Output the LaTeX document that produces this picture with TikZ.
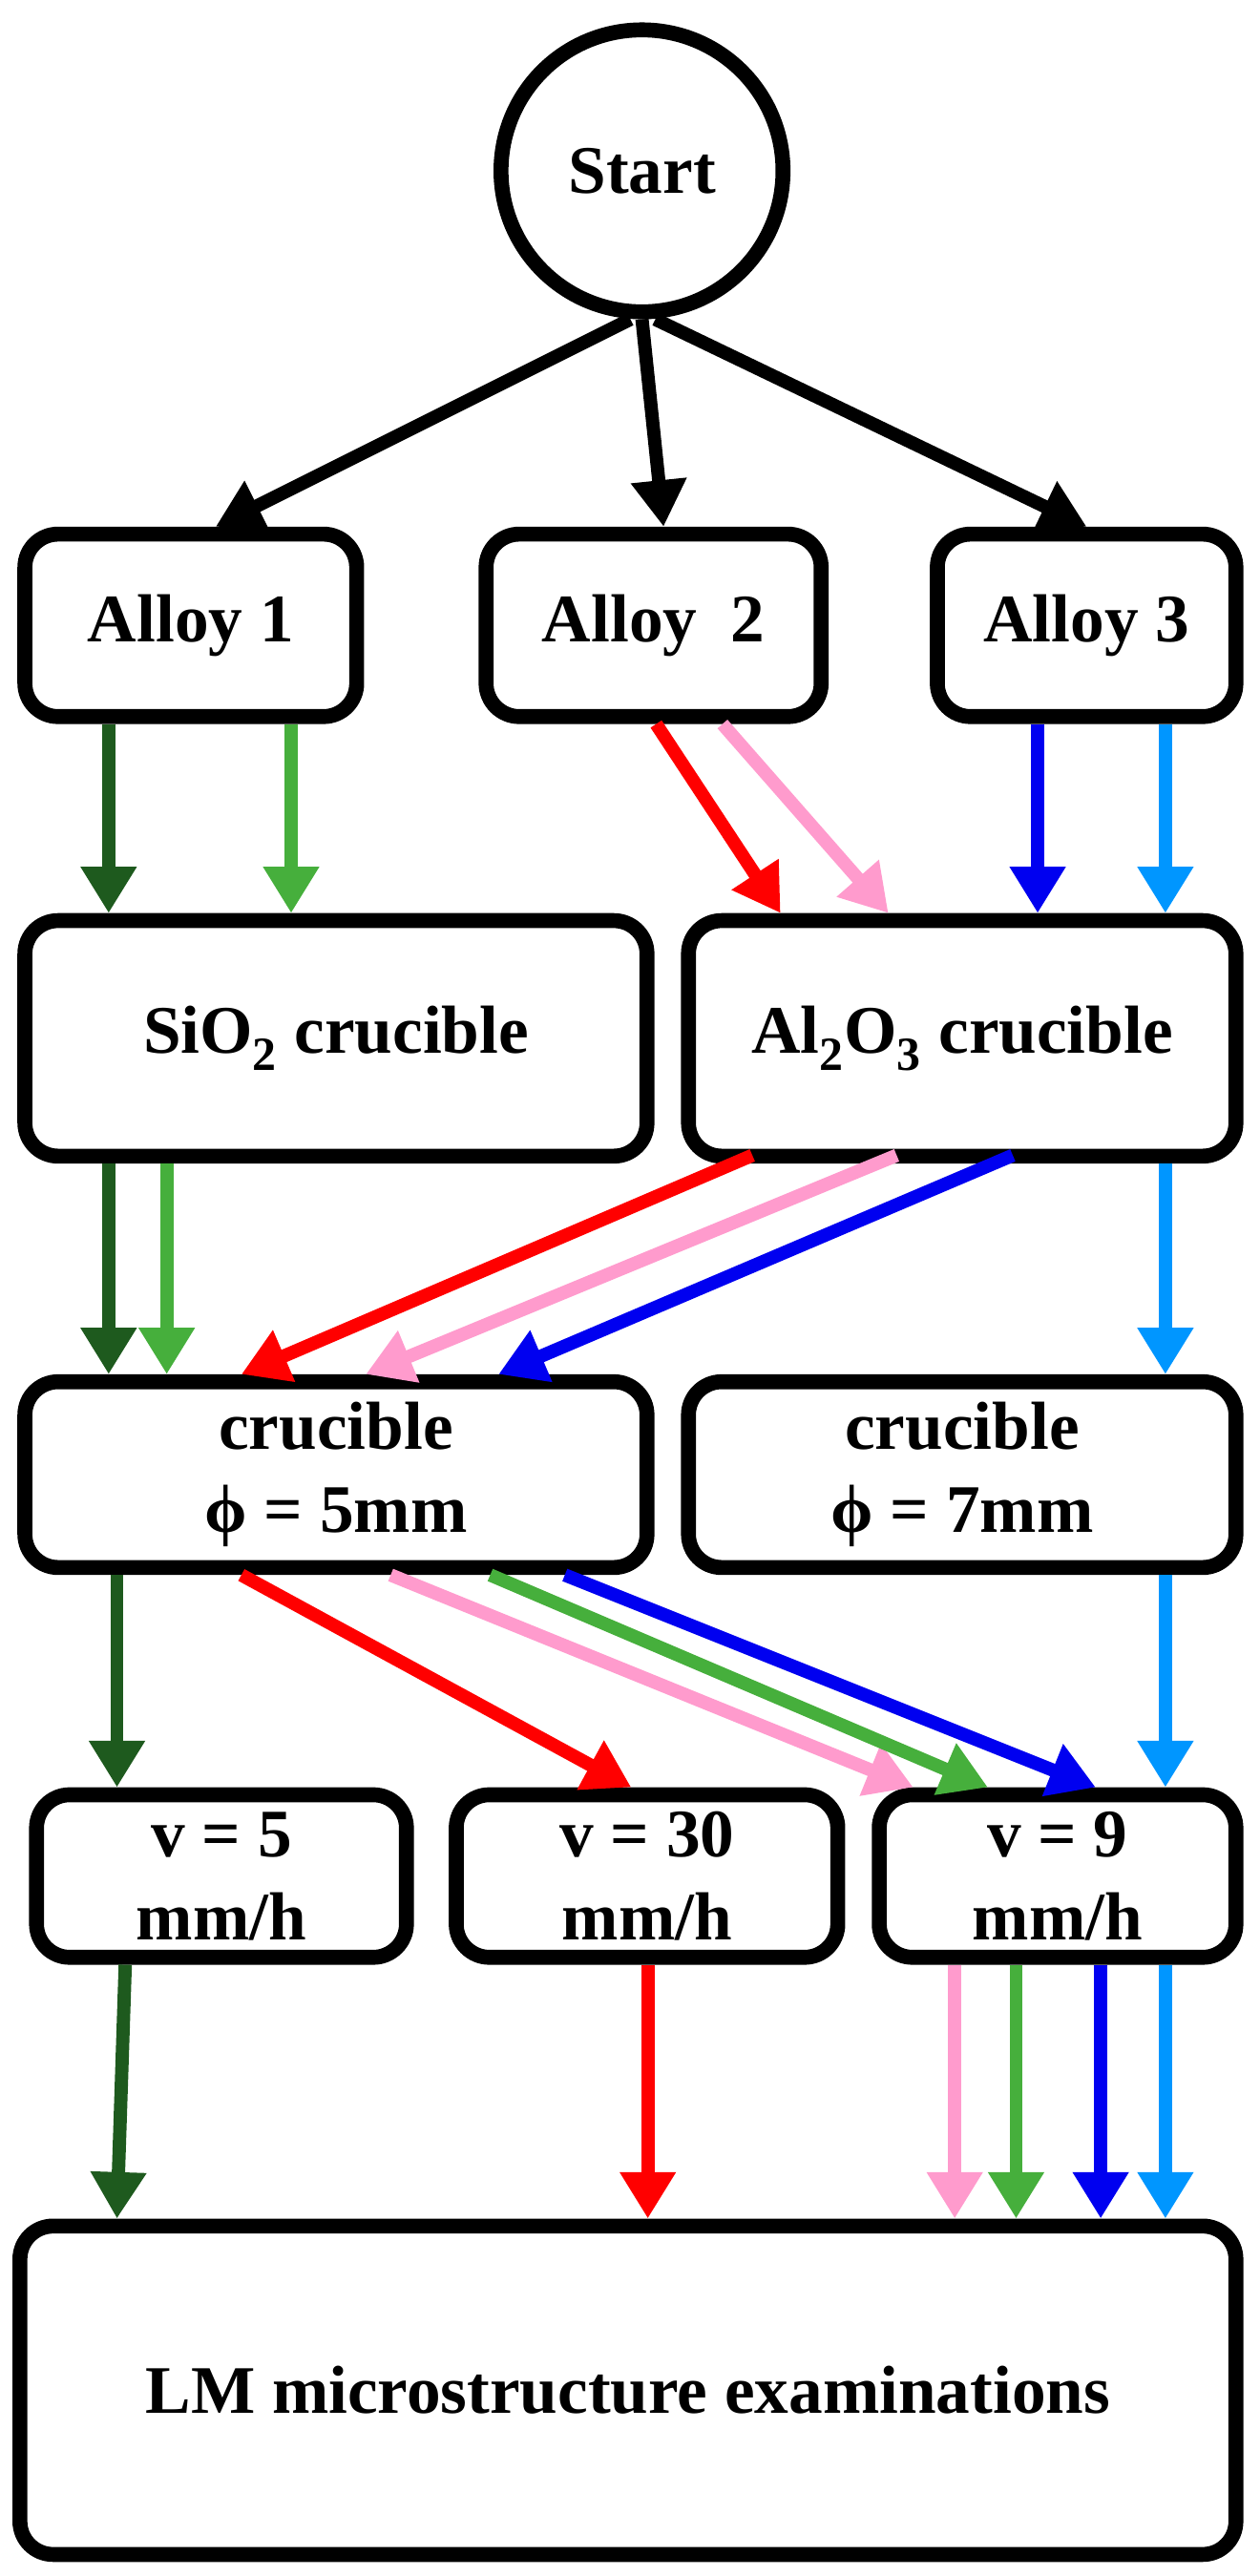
\documentclass[tikz,border=0pt]{standalone}
\usepackage{fontspec}
\setmainfont{Liberation Serif}
\usetikzlibrary{arrows.meta}
\definecolor{dg}{RGB}{30,90,30}
\definecolor{lg}{RGB}{70,175,60}
\definecolor{rd}{RGB}{255,0,0}
\definecolor{pk}{RGB}{255,155,205}
\definecolor{bl}{RGB}{0,0,240}
\definecolor{lb}{RGB}{0,150,255}
\begin{document}
\begin{tikzpicture}[x=1pt,y=-1pt,
 box/.style={draw,line width=9pt,rounded corners=20pt,align=center,font=\fontsize{41}{50}\selectfont\bfseries},
 ar/.style={line width=8pt,-{Triangle[length=28pt,width=32pt]}},
 ab/.style={line width=8pt,-{Triangle[length=28pt,width=32pt]}}]
\useasboundingbox (0,0) rectangle (759,1553);
\node[box,circle,minimum size=170pt,inner sep=0pt,rounded corners=0pt] (s) at (387,103) {Start};
\node[box,minimum width=200pt,minimum height=110pt] (a1) at (115,377) {Alloy 1};
\node[box,minimum width=202pt,minimum height=110pt] (a2) at (394,377) {Alloy\ \ 2};
\node[box,minimum width=180pt,minimum height=110pt] (a3) at (655,377) {Alloy 3};
\node[box,minimum width=375pt,minimum height=142pt] (si) at (202.5,626) {SiO\textsubscript{2} crucible};
\node[box,minimum width=330pt,minimum height=142pt] (al) at (580,626) {Al\textsubscript{2}O\textsubscript{3} crucible};
\node[box,minimum width=375pt,minimum height=112pt] (c5) at (202.5,889) {crucible\\ϕ = 5mm};
\node[box,minimum width=330pt,minimum height=112pt] (c7) at (580,889) {crucible\\ϕ = 7mm};
\node[box,minimum width=223pt,minimum height=98pt] (v5) at (133.5,1131) {v = 5\\mm/h};
\node[box,minimum width=230pt,minimum height=98pt] (v30) at (390,1131) {v = 30\\mm/h};
\node[box,minimum width=215pt,minimum height=98pt] (v9) at (637.5,1131) {v = 9\\mm/h};
\node[box,minimum width=733pt,minimum height=198pt] (lm) at (378.5,1441) {LM microstructure examinations};
% start
\draw[ab] ([xshift=-7pt]s.south) -- ([xshift=15pt]a1.north);
\draw[ab] (s.south) -- ([xshift=6pt]a2.north);
\draw[ab] ([xshift=8pt]s.south) -- (a3.north);
% alloys -> crucibles
\draw[ar,dg] ([xshift=55pt]a1.south west) -- ([xshift=55pt]si.north west);
\draw[ar,lg] ([xshift=165pt]a1.south west) -- ([xshift=165pt]si.north west);
\draw[ar,rd] ([xshift=107pt]a2.south west) -- ([xshift=60pt]al.north west);
\draw[ar,pk] ([xshift=147pt]a2.south west) -- ([xshift=125pt]al.north west);
\draw[ar,bl] ([xshift=65pt]a3.south west) -- ([xshift=215pt]al.north west);
\draw[ar,lb] ([xshift=142pt]a3.south west) -- ([xshift=292pt]al.north west);
% crucibles -> diameter
\draw[ar,dg] ([xshift=55pt]si.south west) -- ([xshift=55pt]c5.north west);
\draw[ar,lg] ([xshift=90pt]si.south west) -- ([xshift=90pt]c5.north west);
\draw[ar,rd] ([xshift=43pt,yshift=5pt]al.south west) -- ([xshift=135pt]c5.north west);
\draw[ar,pk] ([xshift=130pt,yshift=5pt]al.south west) -- ([xshift=210pt]c5.north west);
\draw[ar,bl] ([xshift=200pt,yshift=5pt]al.south west) -- ([xshift=290pt]c5.north west);
\draw[ar,lb] ([xshift=292pt]al.south west) -- ([xshift=292pt]c7.north west);
% diameter -> speed
\draw[ar,dg] ([xshift=60pt]c5.south west) -- ([xshift=53pt]v5.north west);
\draw[ar,rd] ([xshift=135pt]c5.south west) -- ([xshift=110pt]v30.north west);
\draw[ar,pk] ([xshift=225pt]c5.south west) -- ([xshift=25pt]v9.north west);
\draw[ar,lg] ([xshift=285pt]c5.south west) -- ([xshift=70pt]v9.north west);
\draw[ar,bl] ([xshift=330pt]c5.south west) -- ([xshift=135pt]v9.north west);
\draw[ar,lb] ([xshift=292pt]c7.south west) -- ([xshift=177pt]v9.north west);
% speed -> LM
\draw[ar,dg] ([xshift=58pt]v5.south west) -- ([xshift=63pt]lm.north west);
\draw[ar,rd] ([xshift=120pt]v30.south west) -- ([xshift=383pt]lm.north west);
\draw[ar,pk] ([xshift=50pt]v9.south west) -- ([xshift=568pt]lm.north west);
\draw[ar,lg] ([xshift=87pt]v9.south west) -- ([xshift=605pt]lm.north west);
\draw[ar,bl] ([xshift=138pt]v9.south west) -- ([xshift=656pt]lm.north west);
\draw[ar,lb] ([xshift=177pt]v9.south west) -- ([xshift=695pt]lm.north west);
\end{tikzpicture}
\end{document}
